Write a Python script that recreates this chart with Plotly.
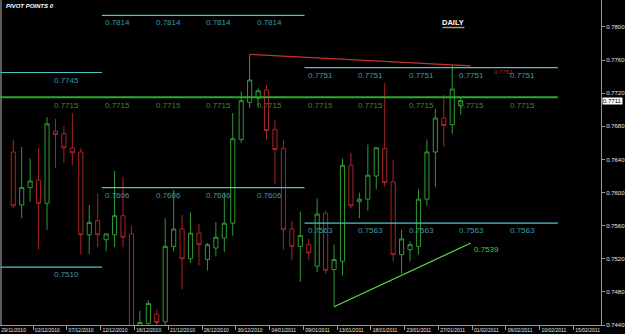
import plotly.graph_objects as go

# ---------------- data ----------------
BAR_INDEX = list(range(54))
OPEN = [0.7649, 0.7585, 0.7606, 0.7615, 0.7587, 0.7674, 0.7671, 0.7654, 0.7649, 0.7549,
        0.7566, 0.7543, 0.7549, 0.7572, 0.7550, 0.7428, 0.7442, 0.7453, 0.7444, 0.7535,
        0.7556, 0.7520, 0.7551, 0.7519, 0.7533, 0.7545, 0.7563, 0.7664, 0.7709, 0.7714,
        0.7724, 0.7676, 0.7653, 0.7556, 0.7535, 0.7537, 0.7511, 0.7575, 0.7507, 0.7517,
        0.7633, 0.7589, 0.7592, 0.7620, 0.7653, 0.7613, 0.7525, 0.7531, 0.7535, 0.7592,
        0.7649, 0.7690, 0.7682, 0.7705]
HIGH = [0.7664, 0.7655, 0.7641, 0.7654, 0.7691, 0.7689, 0.7680, 0.7696, 0.7654, 0.7585,
        0.7599, 0.7550, 0.7626, 0.7619, 0.7560, 0.7457, 0.7470, 0.7459, 0.7569, 0.7603,
        0.7573, 0.7576, 0.7562, 0.7539, 0.7564, 0.7600, 0.7696, 0.7722, 0.7767, 0.7726,
        0.7730, 0.7687, 0.7664, 0.7566, 0.7577, 0.7544, 0.7593, 0.7578, 0.7537, 0.7641,
        0.7648, 0.7600, 0.7658, 0.7655, 0.7732, 0.7639, 0.7555, 0.7541, 0.7604, 0.7664,
        0.7701, 0.7718, 0.7754, 0.7715]
LOW = [0.7581, 0.7569, 0.7589, 0.7531, 0.7555, 0.7630, 0.7636, 0.7633, 0.7525, 0.7526,
       0.7534, 0.7529, 0.7534, 0.7534, 0.7424, 0.7420, 0.7436, 0.7433, 0.7438, 0.7529,
       0.7483, 0.7515, 0.7512, 0.7506, 0.7523, 0.7528, 0.7548, 0.7660, 0.7702, 0.7704,
       0.7664, 0.7610, 0.7531, 0.7518, 0.7492, 0.7519, 0.7504, 0.7502, 0.7462, 0.7500,
       0.7581, 0.7569, 0.7578, 0.7604, 0.7607, 0.7517, 0.7502, 0.7517, 0.7525, 0.7584,
       0.7607, 0.7655, 0.7671, 0.7694]
CLOSE = [0.7584, 0.7606, 0.7614, 0.7587, 0.7683, 0.7670, 0.7654, 0.7648, 0.7549, 0.7564,
         0.7549, 0.7550, 0.7572, 0.7546, 0.7430, 0.7443, 0.7466, 0.7443, 0.7535, 0.7556,
         0.7520, 0.7551, 0.7537, 0.7537, 0.7546, 0.7563, 0.7665, 0.7711, 0.7736, 0.7723,
         0.7675, 0.7652, 0.7555, 0.7535, 0.7548, 0.7527, 0.7574, 0.7506, 0.7519, 0.7633,
         0.7584, 0.7592, 0.7621, 0.7654, 0.7612, 0.7525, 0.7544, 0.7537, 0.7592, 0.7649,
         0.7690, 0.7681, 0.7725, 0.7711]

# date axis labels (every 4 bars)
DATE_LABELS = ["29/11/2010", "02/12/2010", "07/12/2010", "12/12/2010", "16/12/2010",
               "21/12/2010", "26/12/2010", "30/12/2010", "04/01/2011", "09/01/2011",
               "13/01/2011", "18/01/2011", "23/01/2011", "27/01/2011", "01/02/2011",
               "06/02/2011", "10/02/2011", "15/02/2011"]
PRICE_TICKS = [0.7440, 0.7480, 0.7520, 0.7560, 0.7600, 0.7640, 0.7680, 0.7720, 0.7760, 0.7800]

# pivot levels per period: (start bar, end bar, upper level, lower level)
PERIOD_BOUNDS = [-2.0, 10.5, 34.5, 64.5]
PIVOT_UPPER = [0.7745, 0.7814, 0.7751]
PIVOT_LOWER = [0.7510, 0.7606, 0.7563]
PIVOT_MID = 0.7715
LABEL_STEP = 6
LABEL_FIRST = 4.5

# trend lines
RED_TL_X = [28, 54.2]
RED_TL_Y = [0.7767, 0.7753]
RED_TL_LABEL = "0.7752"
GREEN_TL_X = [38, 54.2]
GREEN_TL_Y = [0.7462, 0.7539]
LAST_PRICE = 0.7711

# ---------------- styling ----------------
GREEN = "#2f9a32"
RED = "#a82424"
CYAN = "#4cc3cc"
CYAN_TXT = "#3f9aa3"
MIDGREEN = "#2ea82e"
MIDGREEN_TXT = "#2f8f2f"
AXIS = "#9a9a9a"
TXT = "#e6e6e6"

W, H = 625, 334
ML, MR, MT, MB = 0, 22, 0, 9
PW, PH = W - ML - MR, H - MT - MB
XR = [-1.57, 69.62]
YR = [0.74400, 0.78326]


def px_x(px):
    return (px - ML) / PW


def px_y(py):
    return 1 - (py - MT) / PH


fig = go.Figure()

fig.add_trace(go.Candlestick(
    x=BAR_INDEX, open=OPEN, high=HIGH, low=LOW, close=CLOSE,
    increasing=dict(line=dict(color=GREEN, width=1), fillcolor="black"),
    decreasing=dict(line=dict(color=RED, width=1), fillcolor="black"),
    whiskerwidth=0, showlegend=False, hoverinfo="skip"))

annotations = []
lbl_font = dict(family="Liberation Sans", size=8)

# pivot segments
for i in range(len(PIVOT_UPPER)):
    x0, x1 = PERIOD_BOUNDS[i], PERIOD_BOUNDS[i + 1]
    for lvl in (PIVOT_UPPER[i], PIVOT_LOWER[i]):
        fig.add_trace(go.Scatter(x=[x0, x1], y=[lvl, lvl], mode="lines",
                                 line=dict(color=CYAN, width=1.2),
                                 showlegend=False, hoverinfo="skip"))

# middle pivot line
fig.add_trace(go.Scatter(x=[PERIOD_BOUNDS[0], PERIOD_BOUNDS[-1]], y=[PIVOT_MID, PIVOT_MID],
                         mode="lines", line=dict(color=MIDGREEN, width=2),
                         showlegend=False, hoverinfo="skip"))

# trend lines
fig.add_trace(go.Scatter(x=RED_TL_X, y=RED_TL_Y, mode="lines",
                         line=dict(color="#c83030", width=1.2),
                         showlegend=False, hoverinfo="skip"))
fig.add_trace(go.Scatter(x=GREEN_TL_X, y=GREEN_TL_Y, mode="lines",
                         line=dict(color="#5fd84a", width=1.2),
                         showlegend=False, hoverinfo="skip"))

# red trend label, just right of the cyan label
annotations.append(dict(x=RED_TL_X[1] + 2.5, y=RED_TL_Y[1], xref="x", yref="y",
                        text=RED_TL_LABEL, showarrow=False, xanchor="left", yanchor="top",
                        yshift=-1, font=dict(family="Liberation Sans", size=6, color="#b02828")))

# pivot labels
pos = LABEL_FIRST
while pos < PERIOD_BOUNDS[-1] - 1:
    seg = sum(1 for b in PERIOD_BOUNDS[1:-1] if pos >= b)
    for lvl in (PIVOT_UPPER[seg], PIVOT_LOWER[seg]):
        annotations.append(dict(x=pos, y=lvl, xref="x", yref="y", text=f"{lvl:.4f}",
                                showarrow=False, xanchor="left", yanchor="top",
                                xshift=1, yshift=-1, font=dict(lbl_font, color=CYAN_TXT)))
    annotations.append(dict(x=pos, y=PIVOT_MID, xref="x", yref="y", text=f"{PIVOT_MID:.4f}",
                            showarrow=False, xanchor="left", yanchor="top",
                            xshift=1, yshift=-2, font=dict(lbl_font, color=MIDGREEN_TXT)))
    pos += LABEL_STEP

annotations.append(dict(x=GREEN_TL_X[1] + 0.1, y=GREEN_TL_Y[1], xref="x", yref="y",
                        text=f"{GREEN_TL_Y[1]:.4f}", showarrow=False, xanchor="left",
                        yanchor="top", yshift=0, font=dict(lbl_font, color="#4cc83c")))

# titles
annotations.append(dict(x=px_x(4), y=px_y(6), xref="paper", yref="paper",
                        text="<b><i>PIVOT POINTS 0</i></b>", showarrow=False,
                        xanchor="left", yanchor="middle",
                        font=dict(family="Liberation Sans", size=6, color="white")))
annotations.append(dict(x=px_x(455), y=px_y(22.5), xref="paper", yref="paper",
                        text="<b>DAILY</b>", showarrow=False, xanchor="center", yanchor="middle",
                        font=dict(family="Liberation Sans", size=7.5, color="white")))

# current price box on the axis
annotations.append(dict(x=1, y=LAST_PRICE, xref="paper", yref="y", text=f"{LAST_PRICE:.4f}",
                        showarrow=False, xanchor="left", yanchor="middle", xshift=1,
                        bgcolor="white", borderpad=0,
                        font=dict(family="Liberation Sans", size=6, color="black")))

shapes = [
    dict(type="line", xref="paper", yref="paper", x0=px_x(444), x1=px_x(466),
         y0=px_y(27.5), y1=px_y(27.5), line=dict(color="#9a9a9a", width=1.5)),
    dict(type="line", xref="paper", yref="paper", x0=px_x(1), x1=px_x(1),
         y0=0, y1=px_y(0), line=dict(color="#7a7a7a", width=1.5)),
]

tick_pos = [2.36 + 4 * (k - 1) for k in range(len(DATE_LABELS))]
label_pos = [t + 1.68 for t in tick_pos]

fig.update_layout(
    width=W, height=H, margin=dict(l=ML, r=MR, t=MT, b=MB, pad=0),
    paper_bgcolor="black", plot_bgcolor="black",
    showlegend=False, annotations=annotations, shapes=shapes,
    xaxis=dict(range=XR, showgrid=False, zeroline=False, showline=True,
               linecolor=AXIS, linewidth=1, tickmode="array", tickvals=label_pos,
               ticktext=DATE_LABELS, ticks="", tickfont=dict(family="Liberation Sans", size=5, color=TXT),
               minor=dict(tickmode="array", tickvals=tick_pos, ticks="outside",
                          ticklen=4, tickcolor=AXIS, showgrid=False),
               rangeslider=dict(visible=False), fixedrange=True),
    yaxis=dict(range=YR, side="right", showgrid=False, zeroline=False, showline=True,
               linecolor=AXIS, linewidth=1, tickmode="array", tickvals=PRICE_TICKS,
               ticktext=[f"{v:.4f}" for v in PRICE_TICKS], ticks="outside", ticklen=3,
               tickcolor=AXIS, tickfont=dict(family="Liberation Sans", size=6, color=TXT),
               fixedrange=True),
)

fig.write_html("out.html")
